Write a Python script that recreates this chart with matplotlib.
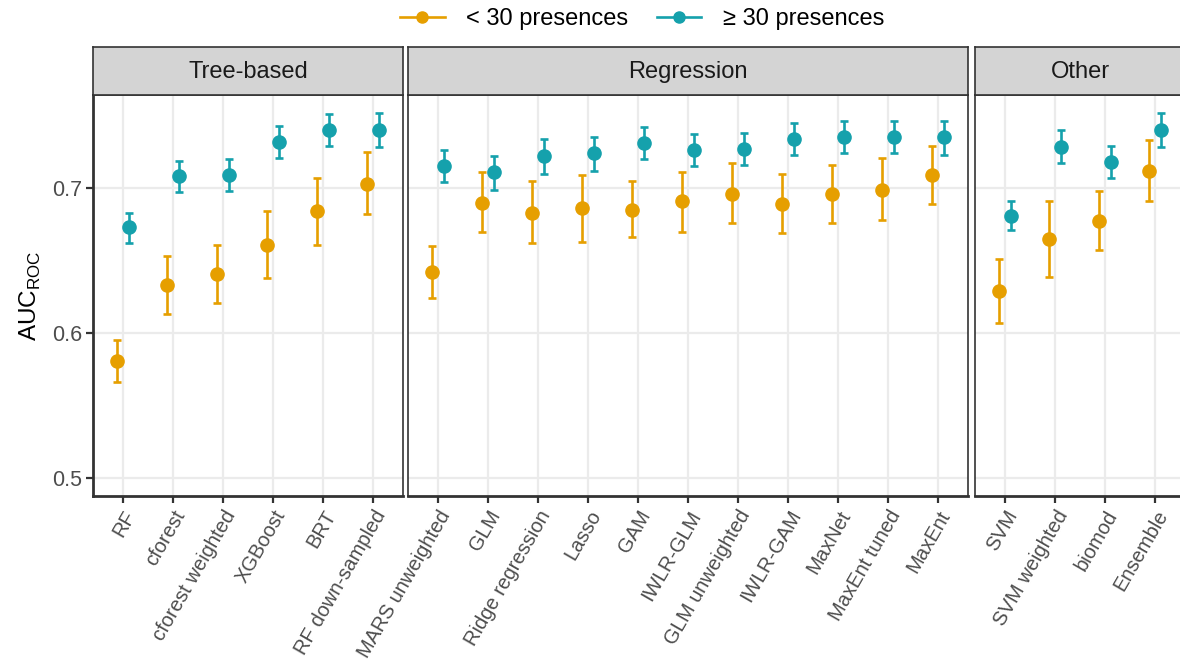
"""AUC-ROC per model, split by presence count, faceted by model family."""

import matplotlib
matplotlib.use("Agg")
import matplotlib.pyplot as plt
from matplotlib.lines import Line2D

plt.rcParams["font.family"] = ["Liberation Sans", "DejaVu Sans"]
plt.rcParams["mathtext.fontset"] = "custom"
plt.rcParams["mathtext.rm"] = "Liberation Sans"

ORANGE = "#E69F00"
TEAL = "#15A1AC"

groups = ["Tree-based", "Regression", "Other"]

models = {
    "Tree-based": ["RF", "cforest", "cforest weighted", "XGBoost", "BRT", "RF down-sampled"],
    "Regression": ["MARS unweighted", "GLM", "Ridge regression", "Lasso", "GAM", "IWLR-GLM",
                   "GLM unweighted", "IWLR-GAM", "MaxNet", "MaxEnt tuned", "MaxEnt"],
    "Other": ["SVM", "SVM weighted", "biomod", "Ensemble"],
}

# < 30 presences: mean, lower, upper
low_mean = {
    "Tree-based": [0.581, 0.633, 0.641, 0.661, 0.684, 0.703],
    "Regression": [0.642, 0.690, 0.683, 0.686, 0.685, 0.691, 0.696, 0.689, 0.696, 0.699, 0.709],
    "Other": [0.629, 0.665, 0.677, 0.712],
}
low_lo = {
    "Tree-based": [0.566, 0.613, 0.621, 0.638, 0.661, 0.682],
    "Regression": [0.624, 0.670, 0.662, 0.663, 0.666, 0.670, 0.676, 0.669, 0.676, 0.678, 0.689],
    "Other": [0.607, 0.639, 0.657, 0.691],
}
low_hi = {
    "Tree-based": [0.595, 0.653, 0.661, 0.684, 0.707, 0.725],
    "Regression": [0.660, 0.711, 0.705, 0.709, 0.705, 0.711, 0.717, 0.710, 0.716, 0.721, 0.729],
    "Other": [0.651, 0.691, 0.698, 0.733],
}

# >= 30 presences: mean, lower, upper
high_mean = {
    "Tree-based": [0.673, 0.708, 0.709, 0.732, 0.740, 0.740],
    "Regression": [0.715, 0.711, 0.722, 0.724, 0.731, 0.726, 0.727, 0.734, 0.735, 0.735, 0.735],
    "Other": [0.681, 0.728, 0.718, 0.740],
}
high_lo = {
    "Tree-based": [0.662, 0.697, 0.698, 0.721, 0.729, 0.728],
    "Regression": [0.704, 0.699, 0.710, 0.712, 0.720, 0.715, 0.716, 0.723, 0.724, 0.724, 0.723],
    "Other": [0.671, 0.717, 0.707, 0.728],
}
high_hi = {
    "Tree-based": [0.683, 0.719, 0.720, 0.743, 0.751, 0.752],
    "Regression": [0.726, 0.722, 0.734, 0.735, 0.742, 0.737, 0.738, 0.745, 0.746, 0.746, 0.746],
    "Other": [0.691, 0.740, 0.729, 0.752],
}

yticks = [0.5, 0.6, 0.7]

W, H = 1180, 667
fig = plt.figure(figsize=(W / 100, H / 100), dpi=100)

unit_px = 50
panel_left = {"Tree-based": 93, "Regression": 408, "Other": 975}
panel_top, panel_bottom = 95, 496
strip_h = 48
dodge = 0.125

for g in groups:
    names = models[g]
    n = len(names)
    width_px = (n - 1 + 1.2) * unit_px
    ax = fig.add_axes([panel_left[g] / W, 1 - panel_bottom / H,
                       width_px / W, (panel_bottom - panel_top) / H])
    xs = list(range(n))
    for mean, lo, hi, col, off in [
        (low_mean, low_lo, low_hi, ORANGE, -dodge),
        (high_mean, high_lo, high_hi, TEAL, dodge),
    ]:
        m = mean[g]
        err = [[a - b for a, b in zip(m, lo[g])], [b - a for a, b in zip(m, hi[g])]]
        ax.errorbar([x + off for x in xs], m, yerr=err, fmt="o", color=col,
                    ms=9.5, elinewidth=1.9, capsize=3.2, capthick=1.9, zorder=3)

    ax.set_xlim(-0.6, n - 1 + 0.6)
    ax.set_ylim(0.4876, 0.7642)
    ax.set_xticks(xs)
    ax.set_xticklabels(names, rotation=60, ha="right", va="top",
                       rotation_mode="anchor", fontsize=14.5, color="#4D4D4D")
    ax.set_yticks(yticks)
    ax.grid(True, color="#EBEBEB", lw=1.6, zorder=0)
    ax.set_axisbelow(True)
    ax.tick_params(axis="x", length=5, width=1.6, color="#333333", pad=3)
    for s in ax.spines.values():
        s.set_color("#333333")
        s.set_linewidth(1.2)
    ax.spines["bottom"].set_linewidth(2.0)
    if g == "Tree-based":
        ax.spines["left"].set_linewidth(2.0)
        ax.set_yticklabels([f"{v:.1f}" for v in yticks], fontsize=15.5, color="#4D4D4D")
        ax.tick_params(axis="y", length=5, width=1.6, color="#333333", pad=3)
        ax.set_ylabel(r"AUC$_{\mathrm{ROC}}$", fontsize=17.5, labelpad=6)
    else:
        ax.tick_params(axis="y", length=0, labelleft=False)

    # facet strip
    sax = fig.add_axes([panel_left[g] / W, 1 - panel_top / H,
                        width_px / W, strip_h / H])
    sax.set_facecolor("#D4D4D4")
    sax.set_xticks([])
    sax.set_yticks([])
    for s in sax.spines.values():
        s.set_color("#333333")
        s.set_linewidth(1.2)
    sax.text(0.5, 0.48, g, transform=sax.transAxes, ha="center", va="center",
             fontsize=17, color="#1A1A1A")

handles = [
    Line2D([], [], color=ORANGE, marker="o", ms=8, lw=1.9),
    Line2D([], [], color=TEAL, marker="o", ms=8, lw=1.9),
]
fig.legend(handles, ["< 30 presences", "≥ 30 presences"], loc="center",
           bbox_to_anchor=(642 / W, 1 - 19 / H), ncol=2, frameon=False,
           fontsize=17, handlelength=1.9, columnspacing=1.2, handletextpad=0.9)

fig.savefig("out.png", dpi=100)
